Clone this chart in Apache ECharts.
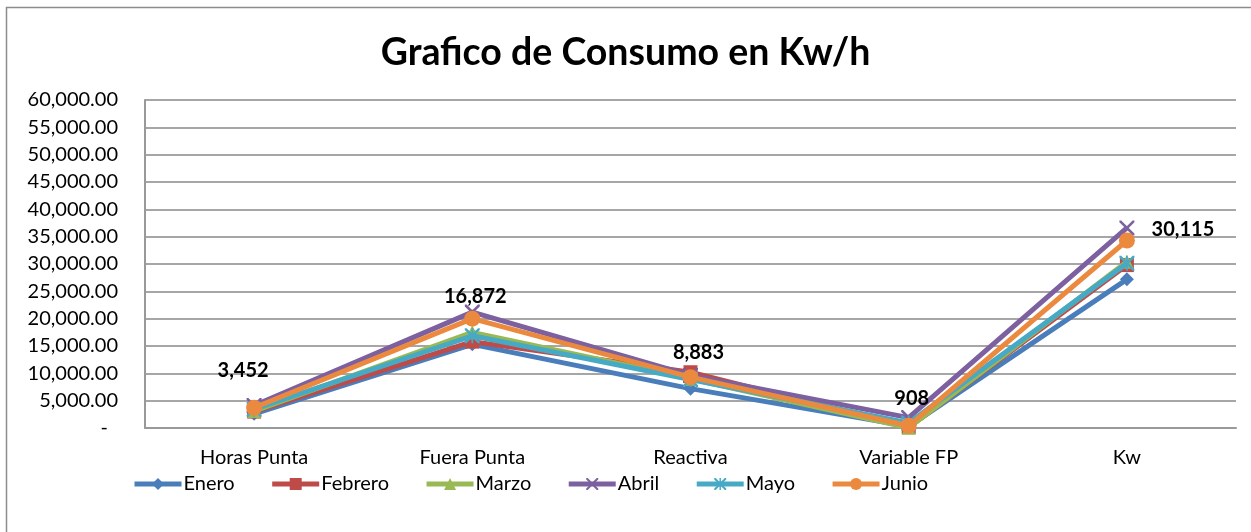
<!DOCTYPE html>
<html>
<head>
<meta charset="utf-8">
<script src="https://cdn.jsdelivr.net/npm/echarts@6/dist/echarts.min.js"></script>
<style>
html,body{margin:0;padding:0;background:#fff;}
#c{width:1251px;height:532px;}
</style>
</head>
<body>
<div id="c"></div>
<script>
// ---- data ----
var categories = ['Horas Punta', 'Fuera Punta', 'Reactiva', 'Variable FP', 'Kw'];
var seriesNames = ['Enero', 'Febrero', 'Marzo', 'Abril', 'Mayo', 'Junio'];
var enero   = [2600, 15300, 7200, 300, 27200];
var febrero = [3000, 15800, 10200, 150, 29800];
var marzo   = [3100, 17500, 9000, 50, 30400];
var abril   = [4100, 21200, 9600, 1900, 36600];
var mayo    = [3452, 16872, 8883, 908, 30115];
var junio   = [3700, 20000, 9300, 400, 34300];
var yTicks = [0, 5000, 10000, 15000, 20000, 25000, 30000, 35000, 40000, 45000, 50000, 55000, 60000];

var values = [enero, febrero, marzo, abril, mayo, junio];
var colors = ['#4A7EBB', '#BE4B48', '#98B954', '#7D60A0', '#46AAC5', '#EB8A3E'];
var FONT = 'Lato';

var xPath = 'path://M0,0 L1.2,0 L10,8.8 L10,10 L8.8,10 L0,1.2 Z M8.8,0 L10,0 L10,1.2 L1.2,10 L0,10 L0,8.8 Z';
var starPath = 'path://M0,0 L1.2,0 L10,8.8 L10,10 L8.8,10 L0,1.2 Z M8.8,0 L10,0 L10,1.2 L1.2,10 L0,10 L0,8.8 Z M4.4,0 L5.6,0 L5.6,10 L4.4,10 Z';
var symbols = ['diamond', 'rect', 'triangle', xPath, starPath, 'circle'];
var symbolSizes = [14, 14, 14, 15, 15, 16];

function fmt(v) {
  var s = Math.round(v).toString().replace(/\B(?=(\d{3})+(?!\d))/g, ',');
  return s + '.00';
}
function fmtInt(v) {
  return Math.round(v).toString().replace(/\B(?=(\d{3})+(?!\d))/g, ',');
}

// label offsets (pixel) for the labelled series (Mayo)
var labelOffsets = [[-11, -39], [3, -39], [8, -27], [3, -24], [56, -34]];

var series = seriesNames.map(function (name, i) {
  var s = {
    name: name,
    type: 'line',
    data: values[i],
    symbol: symbols[i],
    symbolSize: symbolSizes[i],
    showAllSymbol: true,
    lineStyle: { width: 5, color: colors[i] },
    itemStyle: { color: colors[i] },
    emphasis: { disabled: true },
    animation: false,
    z: 2 + i
  };
  if (name === 'Mayo') {
    s.data = values[i].map(function (v, j) {
      return {
        value: v,
        label: {
          show: true,
          position: 'inside',
          offset: labelOffsets[j],
          formatter: function (p) { return fmtInt(p.value); },
          color: '#000',
          fontFamily: FONT,
          fontWeight: 'bold',
          fontSize: 20
        }
      };
    });
  }
  return s;
});

var chart = echarts.init(document.getElementById('c'), null, { renderer: 'canvas' });
chart.setOption({
  animation: false,
  backgroundColor: '#fff',
  title: {
    text: 'Grafico de Consumo en Kw/h',
    left: 'center',
    top: 29,
    textStyle: { fontFamily: FONT, fontWeight: 'bold', fontSize: 37.5, color: '#000' }
  },
  grid: { left: 145, right: 15, top: 100, bottom: 104, containLabel: false },
  legend: {
    data: seriesNames,
    left: 127,
    top: 469,
    itemWidth: 47,
    itemHeight: 15,
    itemGap: 35,
    lineStyle: { width: 5 },
    textStyle: { fontFamily: FONT, fontSize: 20, color: '#000', padding: [0, 0, 0, -3] }
  },
  xAxis: {
    type: 'category',
    data: categories,
    boundaryGap: true,
    axisLine: { show: true, lineStyle: { color: '#999', width: 2 } },
    axisTick: { show: false },
    axisLabel: { fontFamily: FONT, fontSize: 20, color: '#000', margin: 20 },
    splitLine: { show: false }
  },
  yAxis: {
    type: 'value',
    min: yTicks[0],
    max: yTicks[yTicks.length - 1],
    interval: yTicks[1] - yTicks[0],
    axisLine: { show: true, lineStyle: { color: '#999', width: 2 } },
    axisTick: { show: false },
    splitLine: { show: true, lineStyle: { color: '#a6a6a6', width: 2 } },
    axisLabel: {
      fontFamily: FONT, fontSize: 20, color: '#000', margin: 27,
      formatter: function (v) { return v === 0 ? '{z|-}' : fmt(v); },
      rich: { z: { fontFamily: FONT, fontSize: 20, color: '#000', padding: [0, 10, 0, 0] } }
    }
  },
  graphic: [{
    type: 'rect',
    shape: { x: 6.5, y: 7.5, width: 1260, height: 540 },
    style: { fill: 'none', stroke: '#8c8c8c', lineWidth: 1.5 },
    silent: true,
    z: -1
  }],
  series: series
});
</script>
</body>
</html>
